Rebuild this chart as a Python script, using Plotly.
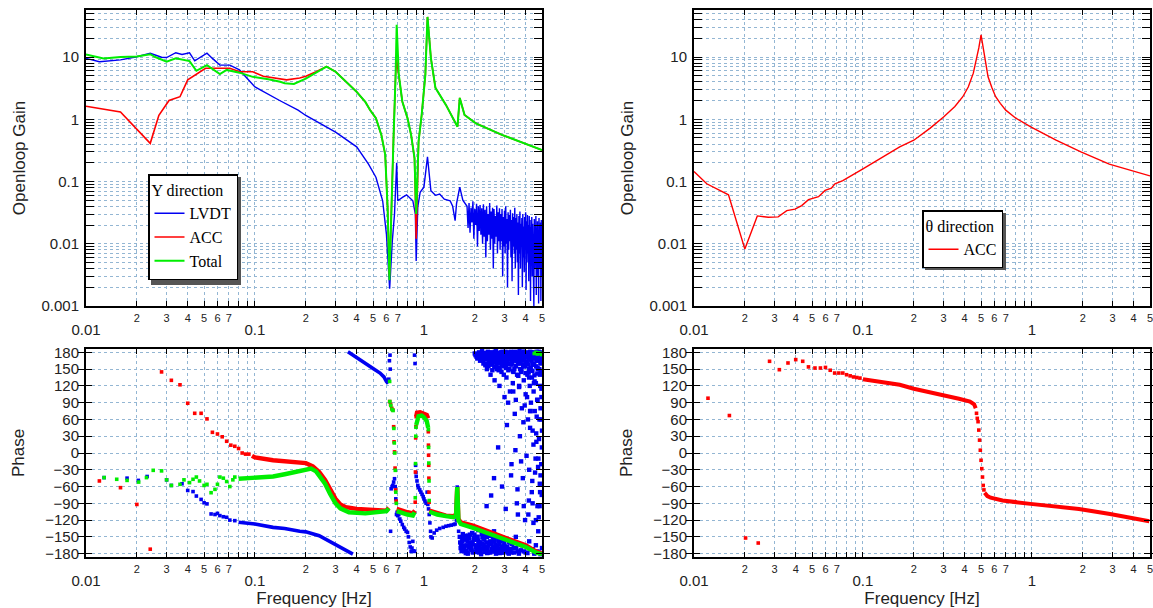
import math
import plotly.graph_objects as go

# ---------------- DATA ----------------
# Y direction open-loop gain
lvdt_gain_f = [0.010, 0.012, 0.016, 0.020, 0.024, 0.028, 0.030, 0.034, 0.037, 0.041, 0.044, 0.052, 0.056,
               0.062, 0.068, 0.071, 0.081, 0.100, 0.140, 0.180, 0.200, 0.300, 0.400, 0.470, 0.520, 0.570,
               0.600, 0.627, 0.650, 0.670, 0.690, 0.700, 0.750, 0.790, 0.860, 0.890, 0.900, 0.920, 0.950,
               1.000, 1.050, 1.100, 1.170, 1.240, 1.320, 1.430, 1.480, 1.530, 1.560, 1.630, 1.700, 1.760]
lvdt_gain = [9.5, 8.4, 9.0, 10.1, 11.5, 9.9, 9.8, 11.7, 11.0, 11.7, 8.7, 11.5, 9.5,
             7.4, 7.4, 7.4, 6.2, 3.3, 2.0, 1.4, 1.15, 0.62, 0.36, 0.19, 0.117, 0.049,
             0.0143, 0.0019, 0.011, 0.030, 0.20, 0.049, 0.056, 0.061, 0.049, 0.030, 0.0053, 0.039, 0.067,
             0.081, 0.25, 0.071, 0.060, 0.063, 0.052, 0.049, 0.040, 0.0235, 0.044, 0.081, 0.050, 0.044]
# LVDT noisy stretch above 1.8 Hz
lvdt_noise_f = [1.800, 1.825, 1.850, 1.875, 1.900, 1.925, 1.950, 1.975, 2.000, 2.025, 2.050, 2.075, 2.100,
                2.125, 2.150, 2.175, 2.200, 2.225, 2.250, 2.275, 2.300, 2.325, 2.350, 2.375, 2.400, 2.425,
                2.450, 2.475, 2.500, 2.525, 2.550, 2.575, 2.600, 2.625, 2.650, 2.675, 2.700, 2.725, 2.750,
                2.775, 2.800, 2.825, 2.850, 2.875, 2.900, 2.925, 2.950, 2.975, 3.000, 3.025, 3.050, 3.075,
                3.100, 3.125, 3.150, 3.175, 3.200, 3.225, 3.250, 3.275, 3.300, 3.325, 3.350, 3.375, 3.400,
                3.425, 3.450, 3.475, 3.500, 3.525, 3.550, 3.575, 3.600, 3.625, 3.650, 3.675, 3.700, 3.725,
                3.750, 3.775, 3.800, 3.825, 3.850, 3.875, 3.900, 3.925, 3.950, 3.975, 4.000, 4.025, 4.050,
                4.075, 4.100, 4.125, 4.150, 4.175, 4.200, 4.225, 4.250, 4.275, 4.300, 4.325, 4.350, 4.375,
                4.400, 4.425, 4.450, 4.475, 4.500, 4.525, 4.550, 4.575, 4.600, 4.625, 4.650, 4.675, 4.700,
                4.725, 4.750, 4.775, 4.800, 4.825, 4.850, 4.875, 4.900, 4.925, 4.950, 4.975, 5.000]
lvdt_noise = [0.040, 0.018, 0.045, 0.015, 0.038, 0.022, 0.048, 0.012, 0.036, 0.020, 0.044, 0.009, 0.040,
              0.016, 0.042, 0.014, 0.037,
              0.010, 0.043, 0.013, 0.035, 0.006, 0.040, 0.011, 0.030, 0.014, 0.045, 0.008, 0.033, 0.012,
              0.038, 0.004, 0.036, 0.010, 0.028, 0.013, 0.041, 0.007, 0.032, 0.011, 0.037,
              0.008, 0.030, 0.011, 0.036, 0.003, 0.027, 0.009, 0.034, 0.007, 0.040, 0.010, 0.025, 0.002,
              0.032, 0.008, 0.029, 0.011, 0.035, 0.006, 0.024, 0.0025, 0.031, 0.009, 0.027, 0.007, 0.038,
              0.004, 0.026,
              0.008, 0.030, 0.005, 0.022, 0.0015, 0.028, 0.007, 0.033, 0.004, 0.021, 0.009, 0.026, 0.002,
              0.030, 0.006, 0.019, 0.0035, 0.027, 0.008, 0.032, 0.0018, 0.023, 0.005, 0.029, 0.007, 0.020,
              0.0025, 0.028,
              0.006, 0.024, 0.0012, 0.019, 0.005, 0.027, 0.003, 0.021, 0.007, 0.017, 0.001, 0.025, 0.004,
              0.020, 0.006, 0.028, 0.0015, 0.018, 0.005, 0.023, 0.003, 0.016, 0.0011, 0.026, 0.004, 0.019,
              0.006, 0.022, 0.0012, 0.024, 0.003, 0.020]

acc_gain_f = [0.010, 0.016, 0.024, 0.027, 0.031, 0.036, 0.040, 0.045, 0.051, 0.059, 0.071, 0.081, 0.097,
              0.112, 0.141, 0.154, 0.184, 0.200, 0.230, 0.265, 0.300, 0.350, 0.400, 0.450, 0.480, 0.520,
              0.560, 0.590, 0.610, 0.625, 0.640, 0.660, 0.680, 0.690, 0.710, 0.745, 0.800, 0.840, 0.880,
              0.900, 0.930, 0.970, 1.020, 1.050, 1.100, 1.170, 1.350, 1.530, 1.580, 1.630, 1.740, 2.030,
              2.900, 5.000]
acc_gain = [1.62, 1.31, 0.41, 1.16, 2.0, 2.3, 4.3, 5.3, 6.6, 6.6, 6.6, 5.8, 5.8,
            4.9, 4.5, 4.3, 4.6, 4.9, 5.8, 7.0, 5.8, 3.9, 2.75, 1.9, 1.41, 1.04,
            0.56, 0.27, 0.037, 0.003, 0.037, 0.44, 5.2, 9.0, 5.0, 1.93, 1.04, 0.56, 0.235,
            0.012, 0.44, 1.17, 5.2, 44.0, 9.6, 3.2, 1.7, 0.92, 0.76, 2.2, 1.17, 0.86,
            0.56, 0.32]

total_gain_f = [0.010, 0.0127, 0.016, 0.020, 0.024, 0.0257, 0.030, 0.034, 0.041, 0.045, 0.052, 0.062,
                0.068, 0.081, 0.097, 0.120, 0.141, 0.150, 0.170, 0.200, 0.230, 0.265, 0.300, 0.350,
                0.400, 0.450, 0.480, 0.520, 0.560, 0.590, 0.610, 0.625, 0.640, 0.660, 0.680, 0.690,
                0.710, 0.745, 0.800, 0.840, 0.880, 0.900, 0.930, 0.970, 1.020, 1.050, 1.100, 1.170,
                1.350, 1.530, 1.580, 1.630, 1.740, 2.030, 2.900, 5.000]
total_gain = [11.0, 9.5, 10.0, 10.2, 11.1, 10.0, 8.4, 9.5, 8.6, 6.0, 7.4, 5.3,
              6.2, 5.6, 4.8, 4.4, 4.0, 3.8, 3.7, 4.5, 5.6, 7.0, 5.8, 3.9,
              2.75, 1.9, 1.41, 1.04, 0.56, 0.27, 0.037, 0.0026, 0.037, 0.44, 5.2, 33.0,
              5.2, 1.93, 1.04, 0.56, 0.235, 0.030, 0.44, 1.17, 5.2, 44.0, 9.6, 3.2,
              1.7, 0.92, 0.76, 2.2, 1.17, 0.86, 0.56, 0.32]

# Y direction phase: sparse dots + dense stretches (None = break)
acc_ph_dot_f = [0.012, 0.016, 0.020, 0.024, 0.028, 0.032, 0.036, 0.040, 0.044, 0.048, 0.052, 0.056, 0.060,
                0.064, 0.068, 0.072, 0.076, 0.080, 0.084, 0.088, 0.092,
                0.627, 0.635, 0.645, 0.655, 0.662, 0.666, 0.670, 0.675, 0.680, 0.685,
                0.888, 0.891, 0.894, 0.897, 0.900,
                1.062, 1.064, 1.066, 1.068, 1.070, 1.072, 1.074]
acc_ph_dot = [-50, -62, -92, -172, 145, 130, 122, 89, 71, 71, 61, 37, 34,
              29, 21, 14, 12, 8, 0, -2, -2,
              92, 87, 80, 77, 47, 20, 2, -27, -66, -86,
              -88, -34, 27, 47, 65,
              38, 14, -4, -22, -45, -70, -88]
acc_ph_band_f = [0.096, 0.100, 0.128, 0.160, 0.200, 0.220, 0.240, 0.260, 0.278, 0.300, 0.320, 0.345, 0.400,
                 0.500, 0.600, 0.620, None,
                 0.690, 0.750, 0.800, 0.860, 0.885, None,
                 0.900, 0.910, 0.950, 1.000, 1.040, 1.060, None,
                 1.076, 1.200, 1.350, 1.500, 1.550, 1.575, 1.600, 1.650, 1.950, 2.700, 3.400, 4.000,
                 4.600, 5.000]
acc_ph_band = [-5, -8, -13, -16, -18, -24, -34, -48, -64, -82, -92, -97, -100,
               -101, -103, -98, None,
               -100, -104, -106, -108, -103, None,
               65, 72, 73, 71, 68, 62, None,
               -103, -108, -112, -113, -110, -61, -118, -124, -130, -146, -156, -165,
               -176, -180]

total_ph_dot_f = [0.0128, 0.0152, 0.0175, 0.0205, 0.0228, 0.025, 0.028, 0.030, 0.032, 0.036, 0.038, 0.041,
                  0.043, 0.045, 0.047, 0.050, 0.052, 0.055, 0.058, 0.060, 0.062, 0.065, 0.068, 0.071,
                  0.074, 0.076,
                  0.627, 0.629, 0.637, 0.647, 0.657, 0.664, 0.668, 0.672, 0.677, 0.682, 0.687,
                  0.889, 0.892, 0.895, 0.898,
                  1.063, 1.066, 1.069, 1.072, 1.075,
                  4.50, 4.60, 4.70, 4.80, 4.90, 4.97]
total_ph_dot = [-44, -47, -49, -52, -44, -31, -32, -48, -58, -56, -48, -53,
                -47, -43, -50, -58, -56, -71, -65, -56, -43, -45, -51, -60,
                -48, -43,
                128, 92, 85, 78, 76, 44, 18, 0, -31, -70, -90,
                -80, -19, 30, 46,
                42, 10, -18, -50, -85,
                178, 180, 177, 179, 178, 176]
total_ph_band_f = [0.080, 0.100, 0.128, 0.150, 0.184, 0.200, 0.215, 0.230, 0.240, 0.260, 0.278, 0.300,
                   0.320, 0.360, 0.450, 0.550, 0.600, 0.620, None,
                   0.690, 0.750, 0.800, 0.860, 0.880, None,
                   0.900, 0.910, 0.930, 0.970, 1.000, 1.040, 1.060, None,
                   1.078, 1.200, 1.350, 1.500, 1.550, 1.575, 1.600, 1.650, 2.000, 2.700, 3.400, 4.000,
                   4.600, 5.000]
total_ph_band = [-46, -45, -42, -38, -32, -29, -28, -33, -40, -55, -73, -90,
                 -99, -106, -108, -106, -104, -99, None,
                 -104, -108, -110, -112, -106, None,
                 50, 60, 66, 67, 64, 57, 45, None,
                 -105, -110, -113, -115, -112, -61, -120, -127, -135, -150, -160, -168,
                 -178, -181]

lvdt_ph_dot_f = [0.0128, 0.0175, 0.0204, 0.023, 0.030, 0.032, 0.037, 0.040, 0.043, 0.045, 0.048, 0.050,
                 0.052, 0.055, 0.058, 0.060, 0.062, 0.065, 0.068, 0.071, 0.076,
                 0.620, 0.625, 0.630, 0.632, 0.635, 0.640, 0.648, 0.655, 0.662, 0.670, 0.676, 0.682, 0.688,
                 0.694, 0.700, 0.710, 0.720, 0.730, 0.745, 0.760, 0.770, 0.785, 0.800, 0.810, 0.820,
                 0.830, 0.840, 0.850, 0.860, 0.870, 0.880, 0.882, 0.886,
                 0.893, 0.897, 0.900, 0.910, 0.920, 0.930, 0.945, 0.960, 0.975, 0.990, 1.000, 1.015,
                 1.030, 1.045, 1.055, 1.065, 1.075, 1.085, 1.095,
                 1.100, 1.120, 1.150, 1.190, 1.240, 1.300, 1.350, 1.400, 1.450, 1.500, 1.530, 1.560,
                 1.575, 1.590, 1.605]
lvdt_ph_dot = [-44, -45, -49, -42, -48, -58, -55, -67, -69, -77, -83, -89,
               -91, -109, -110, -108, -112, -114, -115, -120, -121,
               132, 165, 175, 150, -140, -64, -60, -58, -52, -46, -60, -82, -110,
               -106, -112, -110, -118, -122, -128, -133, -136, -140, -142, -150, -160,
               -168, -176, -170, -158, -175, 175, -176, 160,
               -22, -35, -42, -50, -58, -62, -66, -70, -74, -78, -82, -86,
               -90, -70, -92, -100, -110, -125, -140,
               -150, -152, -143, -138, -135, -133, -131, -130, -129, -128, -127, -120,
               -61, -100, -140]
lvdt_ph_band_f = [0.080, 0.100, 0.128, 0.150, 0.184, 0.200, 0.240, 0.290, 0.330, 0.380, None,
                  0.355, 0.400, 0.450, 0.500, 0.550, 0.580, 0.600, 0.615]
lvdt_ph_band = [-124, -127, -133, -135, -140, -141, -148, -162, -172, -181, None,
                181, 170, 161, 151, 143, 136, 128, 124]

# LVDT phase scatter above 1.6 Hz (upper band, middle scatter, lower band)
lvdt_cloud_f = [2.00, 2.05, 2.10, 2.15, 2.20, 2.22, 2.25, 2.30, 2.33, 2.36, 2.40, 2.42, 2.45, 2.48, 2.50,
                2.53, 2.56, 2.60, 2.62, 2.65, 2.68, 2.70, 2.73, 2.76, 2.80, 2.82, 2.85, 2.88, 2.90, 2.93,
                2.96, 3.00, 3.02, 3.05, 3.08, 3.10, 3.13, 3.16, 3.20, 3.23, 3.26, 3.30, 3.33, 3.36, 3.40,
                3.43, 3.46, 3.50, 3.53, 3.56, 3.60, 3.63, 3.66, 3.70, 3.73, 3.76, 3.80, 3.83, 3.86, 3.90,
                3.93, 3.96, 4.00, 4.03, 4.06, 4.10, 4.13, 4.16, 4.20, 4.23, 4.26, 4.30, 4.33, 4.36, 4.40,
                4.43, 4.46, 4.50, 4.53, 4.56, 4.60, 4.63, 4.66, 4.70, 4.73, 4.76, 4.80, 4.83, 4.86, 4.90,
                4.93, 4.96,
                2.50, 2.75, 2.90, 3.10, 3.30, 3.45, 3.55, 3.70, 3.85, 3.95, 4.05, 4.15, 4.25, 4.35, 4.45,
                4.55, 4.65, 4.70, 4.80, 4.85, 4.90, 4.95, 5.00, 4.60, 4.40, 4.20, 3.60, 4.75, 4.88, 4.98,
                1.63, 1.66, 1.70, 1.73, 1.76, 1.80, 1.83, 1.86, 1.90, 1.93, 1.96, 2.00, 2.04, 2.08, 2.12,
                2.16, 2.20, 2.24, 2.28, 2.32, 2.36, 2.40, 2.45, 2.50, 2.55, 2.60, 2.65, 2.70, 2.75, 2.80,
                2.85, 2.90, 2.95, 3.00, 3.10, 3.20, 3.30, 3.40, 3.50, 3.60, 3.80, 4.00, 4.20, 4.40, 4.60,
                4.80, 5.00, 1.68, 1.78, 1.88, 1.98, 2.14, 2.26, 2.42, 2.58, 2.78, 2.98, 3.25]
lvdt_cloud = [178, 172, 176, 165, 179, 170, 160, 175, 168, 150, 178, 163, 172, 140, 176,
              158, 168, 179, 130, 165, 172, 150, 177, 160, 120, 170, 178, 145, 165, 175,
              155, 100, 170, 178, 135, 162, 174, 148, 170, 110, 176, 158, 168, 125, 178,
              150, 165, 95, 172, 140, 176, 160, 118, 170, 178, 145, 80, 165, 175, 130,
              170, 155, 105, 177, 162, 140, 60, 172, 150, 120, 176, 90, 165, 135, 40,
              170, 110, 158, 75, 175, 125, 20, 168, 95, 150, -10, 172, 60, 140, -40,
              165, 100,
              -76, 10, -60, 50, -20, 70, -90, 30, -45, 85, -5, -110, 45, -70, 15,
              -35, 65, -95, 25, -55, 80, -20, 40, -120, -90, -30, -110, -140, 120, -75,
              -150, -165, -145, -172, -155, -178, -148, -160, -170, -143, -176, -155, -165, -150, -178,
              -160, -145, -172, -155, -168, -150, -178, -162, -145, -175, -158, -168, -150, -178, -163,
              -172, -155, -178, -166, -175, -160, -178, -170, -150, -176, -165, -178, -158, -172, -165,
              -178, -170, -158, -175, -166, -152, -162, -170, -148, -176, -157, -169, -160]
lvdt_cloud_top_f = [2.21, 2.24, 2.27, 2.29, 2.32, 2.35, 2.38, 2.41, 2.44, 2.47, 2.51, 2.54, 2.57, 2.59, 2.63,
                    2.66, 2.69, 2.72, 2.75, 2.78, 2.81, 2.84, 2.87, 2.91, 2.94, 2.97, 3.01, 3.04, 3.07, 3.11,
                    3.14, 3.18, 3.21, 3.25, 3.28, 3.32, 3.35, 3.39, 3.42, 3.45, 3.49, 3.52, 3.55, 3.58, 3.62,
                    3.65, 3.68, 3.72, 3.75, 3.78, 3.82, 3.85, 3.88, 3.92, 3.95, 3.99, 4.02, 4.05, 4.09, 4.12,
                    4.15, 4.19, 4.22, 4.25, 4.29, 4.32, 4.35, 4.39, 4.42, 4.45, 4.49, 4.52, 4.55, 4.59, 4.62,
                    4.65, 4.69, 4.72, 4.75, 4.79, 4.82, 4.85, 4.89, 4.92, 4.95, 4.99,
                    2.02, 2.07, 2.12, 2.17, 2.23, 2.28, 2.31, 2.34, 2.39, 2.43, 2.46, 2.49, 2.52, 2.55, 2.58,
                    2.61, 2.64, 2.67, 2.71, 2.74, 2.77, 2.79, 2.83, 2.86, 2.89, 2.92, 2.95, 2.98, 3.03, 3.06,
                    3.09, 3.12, 3.17, 3.22, 3.27, 3.31, 3.37, 3.41, 3.47, 3.51, 3.57, 3.61, 3.67, 3.71, 3.77,
                    3.81, 3.87, 3.91, 3.98, 4.04, 4.11, 4.17, 4.24, 4.31, 4.38, 4.44, 4.51, 4.57, 4.64, 4.71,
                    4.78, 4.84, 4.91, 4.97]
lvdt_cloud_top = [182, 174, 168, 179, 160, 176, 171, 155, 180, 166, 173, 148, 178, 162, 181,
                  170, 157, 175, 166, 179, 152, 172, 180, 163, 176, 140, 170, 181, 158, 174,
                  167, 179, 150, 172, 180, 161, 176, 145, 169, 181, 156, 174, 165, 179, 138,
                  171, 182, 160, 175, 150, 178, 166, 181, 155, 172, 143, 177, 163, 180, 158,
                  170, 135, 176, 181, 152, 166, 179, 147, 172, 160, 180, 128, 169, 176, 155,
                  181, 142, 173, 165, 178, 150, 180, 160, 171, 145, 177,
                  175, 169, 180, 172, 166, 178, 157, 174, 181, 168, 159, 177, 165, 180, 171,
                  154, 176, 182, 162, 173, 148, 179, 167, 175, 158, 181, 170, 163, 177, 152,
                  180, 166, 174, 159, 181, 168, 146, 176, 171, 155, 180, 163, 174, 150, 179,
                  167, 157, 181, 172, 162, 177, 144, 169, 180, 158, 174, 139, 178, 165, 152,
                  181, 170, 147, 176]
lvdt_cloud_mid_f = [3.05, 3.15, 3.28, 3.38, 3.48, 3.58, 3.66, 3.76, 3.88, 3.97, 4.08, 4.18, 4.28, 4.38, 4.48,
                    4.58, 4.68, 4.78, 4.87, 4.96, 4.62, 4.74, 4.84, 4.93, 4.45, 4.25, 3.90, 2.60, 2.35, 4.99]
lvdt_cloud_mid = [-100, 90, -40, 110, 5, -65, 120, -15, 55, -120, 100, -85, 75, -50, 125,
                  -10, 95, -115, -70, 115, 35, -25, -95, 60, -125, 75, -95, -45, -95, 10]
lvdt_cloud_low_f = [1.65, 1.69, 1.72, 1.75, 1.79, 1.82, 1.85, 1.89, 1.92, 1.95, 1.99, 2.02, 2.06, 2.10, 2.14,
                    2.18, 2.22, 2.26, 2.30, 2.34, 2.38, 2.43, 2.47, 2.52, 2.57, 2.62, 2.67, 2.72, 2.77, 2.83,
                    2.88, 2.93, 2.99, 3.05, 3.12, 3.18, 3.25, 3.33, 3.42, 3.52, 3.65, 3.75, 3.90, 4.10, 4.30,
                    4.50, 4.70, 4.90, 2.10, 2.60,
                    1.64, 1.67, 1.71, 1.74, 1.77, 1.81, 1.84, 1.87, 1.91, 1.94, 1.97, 2.01, 2.05, 2.09, 2.13,
                    2.17, 2.21, 2.25, 2.29, 2.33, 2.37, 2.41, 2.46, 2.51, 2.56, 2.61, 2.66, 2.71, 2.76, 2.81,
                    2.87, 2.94, 3.02, 3.15]
lvdt_cloud_low = [-170, -158, -176, -148, -165, -180, -152, -172, -160, -178, -146, -168, -175, -157, -170,
                  -181, -150, -165, -177, -160, -172, -148, -178, -163, -170, -155, -180, -166, -174, -158,
                  -178, -169, -161, -176, -168, -180, -172, -163, -178, -170, -180, -174, -176, -179, -172,
                  -180, -176, -181, -138, -140,
                  -160, -175, -152, -166, -179, -157, -169, -146, -174, -163, -155, -177, -150, -168, -160,
                  -175, -163, -153, -171, -146, -179, -165, -158, -172, -151, -176, -164, -172, -157, -179,
                  -167, -175, -171, -178]

# theta direction
theta_gain_f = [0.0100, 0.0119, 0.0160, 0.0200, 0.0237, 0.0275, 0.0315, 0.0354, 0.0396, 0.0434, 0.0476,
                0.0546, 0.0597, 0.0650, 0.0683, 0.0760, 0.100, 0.126, 0.165, 0.200, 0.250, 0.300, 0.350,
                0.390, 0.420, 0.450, 0.470, 0.485, 0.500, 0.515, 0.530, 0.550, 0.580, 0.610, 0.650, 0.700,
                0.800, 0.990, 1.390, 1.950, 2.870, 5.000]
theta_gain = [0.145, 0.092, 0.061, 0.0082, 0.028, 0.0266, 0.027, 0.034, 0.036, 0.041, 0.051,
              0.057, 0.072, 0.078, 0.092, 0.103, 0.16, 0.23, 0.36, 0.46, 0.72, 1.09, 1.6,
              2.3, 3.3, 5.5, 9.0, 14.0, 22.6, 14.0, 7.5, 4.8, 3.2, 2.3, 1.8, 1.4,
              1.05, 0.75, 0.46, 0.30, 0.19, 0.123]

theta_ph_dot_f = [0.0121, 0.0162, 0.0202, 0.024, 0.028, 0.032, 0.036, 0.040, 0.044, 0.0476, 0.052, 0.056,
                  0.060, 0.064, 0.068, 0.072, 0.076, 0.080, 0.084, 0.088, 0.092, 0.096,
                  0.470, 0.475, 0.480, 0.485, 0.490, 0.495, 0.500, 0.505, 0.510, 0.515, 0.520]
theta_ph_dot = [98, 67, -152, -161, 164, 149, 161, 167, 164, 154, 152, 152,
                153, 148, 143, 143, 143, 140, 138, 136, 135, 134,
                71, 62, 56, 41, 23, 5, -13, -28, -43, -58, -66]
theta_ph_band_f = [0.100, 0.126, 0.165, 0.200, 0.300, 0.370, 0.430, 0.455, 0.465, None,
                   0.525, 0.545, 0.570, 0.670, 0.980, 1.900, 2.900, 4.950]
theta_ph_band = [132, 128, 122, 115, 104, 97, 92, 87, 80, None,
                 -71, -77, -80, -85, -91, -100, -109, -122]

# axis ticks
gain_tick_vals = [0.001, 0.01, 0.1, 1, 10]
gain_tick_text = ["0.001", "0.01", "0.1", "1", "10"]
phase_tick_vals = [-180, -150, -120, -90, -60, -30, 0, 30, 60, 90, 120, 150, 180]
freq_minor_vals = [0.02, 0.03, 0.04, 0.05, 0.06, 0.07, 0.2, 0.3, 0.4, 0.5, 0.6, 0.7, 2, 3, 4, 5]
freq_minor_text = ["2", "3", "4", "5", "6", "7", "2", "3", "4", "5", "6", "7", "2", "3", "4", "5"]
freq_major_vals = [0.01, 0.1, 1]
freq_major_text = ["0.01", "0.1", "1"]

# ---------------- STYLE ----------------
BLUE = "#0000F2"
RED = "#FF0000"
GREEN = "#00EE00"
GRID = "#93B6D3"
FONT = "Liberation Sans"
SERIF = "Liberation Serif"

FREQ_RANGE = [math.log10(0.01), math.log10(5.0)]
GAIN_RANGE = [-3.0, 1.755]
PHASE_RANGE = [-186, 186]

grid_f = []
for dec in (0.01, 0.1, 1):
    for k in range(2, 10):
        if dec * k <= 5.0001:
            grid_f.append(round(dec * k, 4))
grid_g = []
for dec in (0.001, 0.01, 0.1, 1, 10):
    for k in range(2, 10):
        if dec * k <= 57:
            grid_g.append(round(dec * k, 5))

fig = go.Figure()


def add(x, y, xa, ya, color, mode, name=None, legend=None, width=1.6, msize=3.6):
    kw = dict(x=x, y=y, xaxis=xa, yaxis=ya, mode=mode, hoverinfo="skip",
              connectgaps=False, showlegend=name is not None)
    if name is not None:
        kw["name"] = name
        kw["legend"] = legend
    if "lines" in mode:
        kw["line"] = dict(color=color, width=width)
    if "markers" in mode:
        kw["marker"] = dict(color=color, size=msize, symbol="square", line=dict(width=0))
    fig.add_trace(go.Scatter(**kw))


# top-left gain
add(lvdt_gain_f + lvdt_noise_f, lvdt_gain + lvdt_noise, "x", "y", BLUE, "lines", "LVDT", "legend", 1.4)
add(acc_gain_f, acc_gain, "x", "y", RED, "lines", "ACC", "legend", 1.6)
add(total_gain_f, total_gain, "x", "y", GREEN, "lines", "Total", "legend", 2.0)
# top-right gain
add(theta_gain_f, theta_gain, "x2", "y2", RED, "lines", "ACC", "legend2", 1.4)
# bottom-left phase
add(lvdt_ph_band_f, lvdt_ph_band, "x3", "y3", BLUE, "lines", width=3.6)
add(lvdt_ph_dot_f, lvdt_ph_dot, "x3", "y3", BLUE, "markers")
add(lvdt_cloud_f + lvdt_cloud_top_f + lvdt_cloud_mid_f + lvdt_cloud_low_f,
    lvdt_cloud + lvdt_cloud_top + lvdt_cloud_mid + lvdt_cloud_low, "x3", "y3", BLUE, "markers", msize=4.4)
add(acc_ph_band_f, acc_ph_band, "x3", "y3", RED, "lines", width=4.4)
add(acc_ph_dot_f, acc_ph_dot, "x3", "y3", RED, "markers")
add(total_ph_band_f, total_ph_band, "x3", "y3", GREEN, "lines", width=4.4)
add(total_ph_dot_f, total_ph_dot, "x3", "y3", GREEN, "markers")
# bottom-right phase
add(theta_ph_band_f, theta_ph_band, "x4", "y4", RED, "lines", width=4.0)
add(theta_ph_dot_f, theta_ph_dot, "x4", "y4", RED, "markers")
# empty carriers for the decade-label axes
for xa, ya in (("x5", "y"), ("x6", "y2"), ("x7", "y3"), ("x8", "y4")):
    fig.add_trace(go.Scatter(x=[], y=[], xaxis=xa, yaxis=ya, showlegend=False, hoverinfo="skip"))

W, H = 1153, 608
ML, MR, MT, MB = 86, 3, 10, 51
PW, PH = W - ML - MR, H - MT - MB


def px_x(p):
    return (p - ML) / PW


def px_y(p):
    return (H - MB - p) / PH


left_dom = [px_x(86), px_x(542)]
right_dom = [px_x(694), px_x(1150)]
top_dom = [px_y(306), px_y(10)]
bot_dom = [px_y(557), px_y(349)]

line_common = dict(showline=True, linecolor="black", linewidth=2, mirror="allticks",
                   showgrid=True, gridcolor=GRID, griddash="dot", gridwidth=1, zeroline=False,
                   ticks="inside", tickcolor="black")


def xaxis(dom, anchor):
    return dict(domain=dom, anchor=anchor, type="log", range=FREQ_RANGE,
                tickmode="array", tickvals=freq_minor_vals, ticktext=freq_minor_text,
                tickfont=dict(family=FONT, size=11, color="#222"), ticklen=5, ticklabelstandoff=1,
                ticklabeloverflow="allow",
                minor=dict(tickmode="array", tickvals=grid_f + freq_major_vals, showgrid=True,
                           gridcolor=GRID, griddash="dot", gridwidth=1, ticks="inside", ticklen=5,
                           tickcolor="black"),
                **line_common)


def xover(over, anchor, title=None):
    d = dict(overlaying=over, anchor=anchor, type="log", range=FREQ_RANGE, side="bottom",
             tickmode="array", tickvals=freq_major_vals, ticktext=freq_major_text,
             tickfont=dict(family=FONT, size=15, color="#222"), ticks="", ticklabelstandoff=13,
             showgrid=False, showline=False, zeroline=False)
    if title:
        d["title"] = dict(text=title, font=dict(family=FONT, size=17, color="#222"), standoff=4)
    return d


def gaxis(dom, anchor):
    return dict(domain=dom, anchor=anchor, type="log", range=GAIN_RANGE,
                tickmode="array", tickvals=gain_tick_vals, ticktext=gain_tick_text,
                tickfont=dict(family=FONT, size=15, color="#222"), ticklen=8, ticklabelstandoff=2,
                minor=dict(tickmode="array", tickvals=grid_g, showgrid=True, gridcolor=GRID,
                           griddash="dot", gridwidth=1, ticks="inside", ticklen=4, tickcolor="black"),
                title=dict(text="Openloop Gain", font=dict(family=FONT, size=17, color="#222"),
                           standoff=12),
                **line_common)


def paxis(dom, anchor):
    return dict(domain=dom, anchor=anchor, range=PHASE_RANGE,
                tickmode="array", tickvals=phase_tick_vals,
                tickfont=dict(family=FONT, size=15, color="#222"), ticklen=6, ticklabelstandoff=2,
                title=dict(text="Phase", font=dict(family=FONT, size=17, color="#222"), standoff=16),
                **line_common)


# legend drop shadows (pixel boxes of the legends, shifted by 3 px)
LEG1 = (148, 174, 238, 282)
LEG2 = (922, 210, 1003, 267)
shadows = []
for (x0, y0, x1, y1) in (LEG1, LEG2):
    shadows.append(dict(type="rect", xref="paper", yref="paper", layer="above",
                        x0=px_x(x0 + 3), x1=px_x(x1 + 3), y0=px_y(y0 + 3), y1=px_y(y1 + 3),
                        fillcolor="#555555", line=dict(width=0)))

legend_font = dict(family=SERIF, size=16, color="black")
fig.update_layout(
    width=W, height=H,
    margin=dict(l=ML, r=MR, t=MT, b=MB, autoexpand=False),
    paper_bgcolor="white", plot_bgcolor="white",
    xaxis=xaxis(left_dom, "y"), yaxis=gaxis(top_dom, "x"),
    xaxis2=xaxis(right_dom, "y2"), yaxis2=gaxis(top_dom, "x2"),
    xaxis3=xaxis(left_dom, "y3"), yaxis3=paxis(bot_dom, "x3"),
    xaxis4=xaxis(right_dom, "y4"), yaxis4=paxis(bot_dom, "x4"),
    xaxis5=xover("x", "y"), xaxis6=xover("x2", "y2"),
    xaxis7=xover("x3", "y3", "Frequency [Hz]"), xaxis8=xover("x4", "y4", "Frequency [Hz]"),
    shapes=shadows,
    legend=dict(x=px_x(LEG1[0]), y=px_y(LEG1[1]), xanchor="left", yanchor="top", bgcolor="white",
                bordercolor="black", borderwidth=1.5, font=legend_font,
                title=dict(text="Y direction", font=legend_font), tracegroupgap=0, itemwidth=30),
    legend2=dict(x=px_x(LEG2[0]), y=px_y(LEG2[1]), xanchor="left", yanchor="top", bgcolor="white",
                 bordercolor="black", borderwidth=1.5, font=legend_font,
                 title=dict(text="θ direction", font=legend_font), tracegroupgap=0, itemwidth=30),
)

fig.write_html("out.html", config={"displayModeBar": False},
               post_script="document.body.style.margin='0px';document.body.style.padding='0px';")
